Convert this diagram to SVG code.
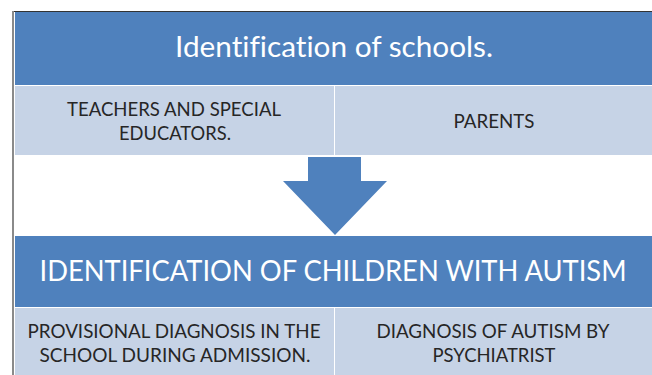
<svg xmlns="http://www.w3.org/2000/svg" width="652" height="375" viewBox="0 0 652 375">
<style>
.dark{fill:#4f81bd}
.light{fill:#c6d3e6}
.title{font-family:Lato,"Open Sans","Liberation Sans",sans-serif;fill:#ffffff;text-anchor:middle;font-variant-ligatures:none}
.sub{font-family:Lato,"Open Sans","Liberation Sans",sans-serif;fill:#262626;font-size:19px;text-anchor:middle}
</style>
<rect width="652" height="375" fill="#ffffff"/>
<line x1="12" y1="11.5" x2="652" y2="11.5" stroke="#333333" stroke-width="1"/>
<line x1="13" y1="11" x2="13" y2="375" stroke="#8a8a8a" stroke-width="2"/>
<g id="top-header">
<rect class="dark" x="15" y="12" width="637" height="73"/>
<text class="title" x="334" y="57" font-size="29" textLength="318" lengthAdjust="spacingAndGlyphs">Identification of schools.</text>
</g>
<g id="teachers">
<rect class="light" x="15" y="86" width="319" height="69"/>
<text class="sub" x="174" y="116" textLength="214" lengthAdjust="spacingAndGlyphs">TEACHERS AND SPECIAL</text>
<text class="sub" x="175" y="140" textLength="112" lengthAdjust="spacingAndGlyphs">EDUCATORS.</text>
</g>
<g id="parents">
<rect class="light" x="335" y="86" width="317" height="69"/>
<text class="sub" x="494" y="128" textLength="81" lengthAdjust="spacingAndGlyphs">PARENTS</text>
</g>
<g id="connectors">
<polygon class="dark" points="308,157 361,157 361,181 387,181 335,235 283,181 308,181"/>
</g>
<g id="bottom-header">
<rect class="dark" x="15" y="236" width="637" height="71"/>
<text class="title" x="333" y="281" font-size="28" textLength="587" lengthAdjust="spacingAndGlyphs">IDENTIFICATION OF CHILDREN WITH AUTISM</text>
</g>
<g id="provisional">
<rect class="light" x="15" y="308" width="319" height="67"/>
<text class="sub" x="174" y="338" textLength="293" lengthAdjust="spacingAndGlyphs">PROVISIONAL DIAGNOSIS IN THE</text>
<text class="sub" x="175" y="362" textLength="271" lengthAdjust="spacingAndGlyphs">SCHOOL DURING ADMISSION.</text>
</g>
<g id="psychiatrist">
<rect class="light" x="335" y="308" width="317" height="67"/>
<text class="sub" x="493" y="338" textLength="233" lengthAdjust="spacingAndGlyphs">DIAGNOSIS OF AUTISM BY</text>
<text class="sub" x="494" y="362" textLength="123" lengthAdjust="spacingAndGlyphs">PSYCHIATRIST</text>
</g>
</svg>
